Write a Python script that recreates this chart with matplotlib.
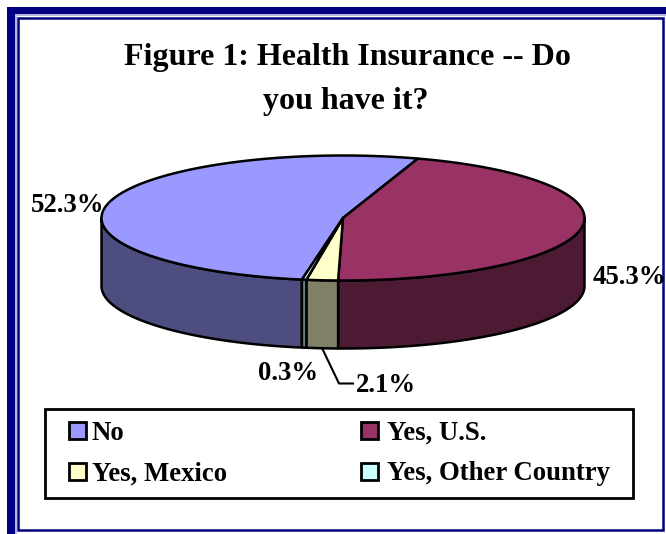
import numpy as np
import matplotlib
matplotlib.use('Agg')
import matplotlib.pyplot as plt
from matplotlib.patches import Polygon, Rectangle

plt.rcParams['font.family'] = ['Liberation Serif', 'DejaVu Serif']
plt.rcParams['font.weight'] = 'bold'

# data
labels = ['No', 'Yes, U.S.', 'Yes, Mexico', 'Yes, Other Country']
values = [52.3, 45.3, 2.1, 0.3]
value_labels = ['52.3%', '45.3%', '2.1%', '0.3%']
top_colors = ['#9999FF', '#993366', '#FFFFCC', '#CCFFFF']
side_colors = ['#4D4D80', '#4D1A33', '#808066', '#668080']

# pie geometry in pixels
cx, cy = 343, 218
rx, ry = 241.5, 62.5
depth = 68
start_angle = 189.8  # clockwise from top


def rim(a0, a1, dy=0):
    t = np.radians(np.linspace(a0, a1, 200))
    return np.column_stack([cx + rx * np.sin(t), cy - ry * np.cos(t) + dy])


fig = plt.figure(figsize=(6.66, 5.34), dpi=100)
ax = fig.add_axes([0, 0, 1, 1])
ax.set_xlim(0, 666)
ax.set_ylim(534, 0)
ax.axis('off')

# frame
navy = '#000080'
ax.add_patch(Rectangle((7, 7), 8, 527, fc=navy, ec='none'))
ax.add_patch(Rectangle((7, 7), 659, 7, fc=navy, ec='none'))
ax.add_patch(Rectangle((15, 14), 651, 2, fc='#B8B8E0', ec='none'))
ax.add_patch(Rectangle((15, 14), 2, 520, fc='#B8B8E0', ec='none'))
ax.add_patch(Rectangle((18, 18), 645, 512, fc='white', ec=navy, lw=1.8))

# slices
edges = start_angle + np.cumsum([0] + values) * 3.6
for i in range(len(values)):
    a0, a1 = edges[i], edges[i + 1]
    # front wall, only the part between 90 and 270 degrees shows
    for shift in (0, 360):
        s0, s1 = max(a0 - shift, 90), min(a1 - shift, 270)
        if s1 > s0:
            pts = np.vstack([rim(s0, s1), rim(s1, s0, depth)])
            ax.add_patch(Polygon(pts, closed=True, fc=side_colors[i], ec='black', lw=1.8, joinstyle='round'))
for i in range(len(values)):
    pts = np.vstack([[cx, cy], rim(edges[i], edges[i + 1])])
    ax.add_patch(Polygon(pts, closed=True, fc=top_colors[i], ec='black', lw=1.8, joinstyle='round'))

# title
ax.text(347, 58, 'Figure 1: Health Insurance -- Do', fontsize=23, ha='center', va='center')
ax.text(346, 101, 'you have it?', fontsize=23, ha='center', va='center')

# value labels
ax.text(68, 206, value_labels[0], fontsize=19.3, ha='center', va='center')
ax.text(629, 278, value_labels[1], fontsize=19.3, ha='center', va='center')
ax.text(386, 386, value_labels[2], fontsize=19.3, ha='center', va='center')
ax.text(288, 374, value_labels[3], fontsize=19.3, ha='center', va='center')
ax.plot([322, 339, 353], [348, 383.5, 383.5], color='black', lw=1.5)

# legend
ax.add_patch(Rectangle((44.5, 408.5), 588, 89, fc='white', ec='black', lw=2))
leg_pos = [(69, 422), (361, 422), (69, 463), (361, 463)]
for i, (lx, ly) in enumerate(leg_pos):
    ax.add_patch(Rectangle((lx, ly), 17, 17, fc=top_colors[i], ec='black', lw=2))
    ax.text(lx + 23 + (3 if lx > 100 else 0), ly + 11, labels[i], fontsize=19.3, ha='left', va='center')

fig.savefig('out.png', dpi=100)
